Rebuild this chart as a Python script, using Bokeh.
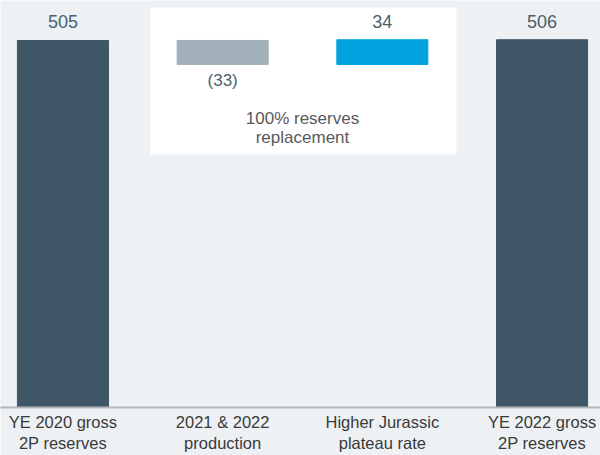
from bokeh.plotting import figure
from bokeh.models import ColumnDataSource, FixedTicker, BoxAnnotation, Label
from bokeh.core.properties import value
from bokeh.embed import file_html
from bokeh.resources import INLINE

# ---- data ----
categories = ["YE 2020 gross\n2P reserves", "2021 & 2022\nproduction",
              "Higher Jurassic\nplateau rate", "YE 2022 gross\n2P reserves"]
steps = [505, -33, 34, 506]          # start total, change, change, end total
kinds = ["total", "delta", "delta", "total"]
bar_colors = ["#3F5666", "#A2B1BA", "#00A3E0", "#3F5666"]
note_text = "100% reserves\nreplacement"

# ---- waterfall geometry from data ----
xs = list(range(len(steps)))
bottoms, tops, labels = [], [], []
running = 0
for v, k in zip(steps, kinds):
    if k == "total":
        bottoms.append(0)
        tops.append(v)
        running = v
        labels.append(str(v))
    else:
        new = running + v
        bottoms.append(min(running, new))
        tops.append(max(running, new))
        labels.append(f"({abs(v)})" if v < 0 else str(v))
        running = new

src = ColumnDataSource(dict(x=xs, bottom=bottoms, top=tops, color=bar_colors))

above_idx = [i for i in xs if steps[i] >= 0]
below_idx = [i for i in xs if steps[i] < 0]
src_above = ColumnDataSource(dict(x=[xs[i] for i in above_idx],
                                  y=[tops[i] for i in above_idx],
                                  t=[labels[i] for i in above_idx]))
src_below = ColumnDataSource(dict(x=[xs[i] for i in below_idx],
                                  y=[bottoms[i] for i in below_idx],
                                  t=[labels[i] for i in below_idx]))

BG = "#EDF1F4"
FONT = "Liberation Sans"

p = figure(width=600, height=455, output_backend="svg", toolbar_location=None,
           x_range=(-0.391, 3.366), y_range=(0, 560.0),
           min_border_left=0, min_border_right=0, min_border_top=0,
           min_border_bottom=48)
p.background_fill_color = BG
p.border_fill_color = BG
p.outline_line_color = None
p.grid.visible = False
p.yaxis.visible = False

# white annotation box spanning the two change bars
p.add_layout(BoxAnnotation(left=1 - 0.452, right=2 + 0.464, bottom=348, top=550,
                           fill_color="white", fill_alpha=1.0, line_color=None,
                           level="underlay"))

p.vbar(x="x", bottom="bottom", top="top", width=0.57, color="color", source=src)

p.text(x="x", y="y", text="t", source=src_above, text_align="center",
       text_baseline="bottom", y_offset=-12, text_font_size="18px",
       text_color="#4B5F6D", text_font=value(FONT))
p.text(x="x", y="y", text="t", source=src_below, text_align="center",
       text_baseline="top", y_offset=7, text_font_size="17px",
       text_color="#4B5F6D", text_font=value(FONT))

p.add_layout(Label(x=1.5, y=384.6, text=note_text, text_align="center",
                   text_baseline="middle", text_font_size="17px",
                   text_color="#5A5A5A", text_font=FONT, text_line_height=1.05))

ax = p.xaxis[0]
ax.ticker = FixedTicker(ticks=xs)
ax.major_label_overrides = {i: c for i, c in zip(xs, categories)}
ax.major_tick_line_color = None
ax.minor_tick_line_color = None
ax.major_tick_out = 0
ax.major_tick_in = 0
ax.axis_line_color = "#B2B6B9"
ax.axis_line_width = 2
ax.major_label_standoff = 5
ax.major_label_text_font = FONT
ax.major_label_text_font_size = "16.5px"
ax.major_label_text_color = "#3A3A3A"
ax.major_label_text_line_height = 1.2

open("out.html", "w").write(file_html(p, INLINE))
